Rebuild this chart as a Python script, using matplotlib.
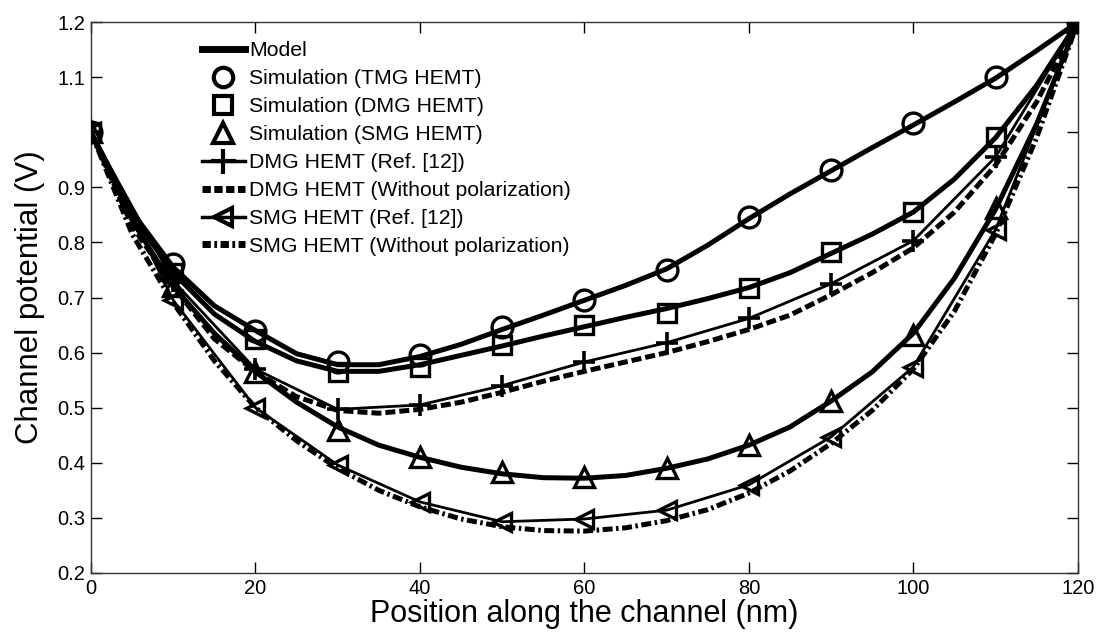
import matplotlib
matplotlib.use("Agg")
import matplotlib.pyplot as plt
from matplotlib.lines import Line2D

plt.rcParams['font.family'] = ['Liberation Sans', 'DejaVu Sans']

# channel positions (nm)
x_fine = [0, 5, 10, 15, 20, 25, 30, 35, 40, 45, 50, 55, 60, 65, 70, 75,
          80, 85, 90, 95, 100, 105, 110, 115, 120]
x_pts = [0, 10, 20, 30, 40, 50, 60, 70, 80, 90, 100, 110, 120]

# model curves (V)
model_tmg = [1.0, 0.855, 0.755, 0.685, 0.64, 0.598, 0.578, 0.578, 0.593, 0.615,
             0.642, 0.668, 0.695, 0.722, 0.752, 0.795, 0.843, 0.888, 0.93, 0.972,
             1.013, 1.055, 1.098, 1.148, 1.2]
model_dmg = [1.0, 0.85, 0.745, 0.67, 0.62, 0.585, 0.566, 0.566, 0.578, 0.595,
             0.612, 0.63, 0.647, 0.664, 0.68, 0.698, 0.718, 0.745, 0.78, 0.815,
             0.855, 0.915, 0.99, 1.085, 1.2]
model_smg = [1.0, 0.84, 0.72, 0.635, 0.565, 0.51, 0.465, 0.432, 0.41, 0.392,
             0.38, 0.373, 0.372, 0.377, 0.39, 0.407, 0.432, 0.465, 0.512, 0.565,
             0.635, 0.735, 0.86, 1.015, 1.2]
dmg_nopol = [1.0, 0.83, 0.72, 0.625, 0.565, 0.52, 0.495, 0.49, 0.497, 0.51,
             0.528, 0.548, 0.566, 0.583, 0.6, 0.62, 0.642, 0.668, 0.705, 0.745,
             0.79, 0.855, 0.94, 1.055, 1.2]
smg_nopol = [1.0, 0.815, 0.69, 0.585, 0.5, 0.44, 0.39, 0.35, 0.32, 0.298,
             0.284, 0.277, 0.276, 0.282, 0.295, 0.315, 0.345, 0.385, 0.435, 0.495,
             0.57, 0.675, 0.815, 0.99, 1.2]

# simulation points (V)
sim_tmg = [1.0, 0.76, 0.64, 0.583, 0.596, 0.647, 0.695, 0.75, 0.846, 0.931, 1.016, 1.1, 1.2]
sim_dmg = [1.0, 0.745, 0.625, 0.565, 0.574, 0.614, 0.65, 0.672, 0.717, 0.783, 0.855, 0.991, 1.2]
sim_smg = [1.0, 0.72, 0.565, 0.46, 0.411, 0.383, 0.374, 0.391, 0.432, 0.512, 0.632, 0.862, 1.2]

# Ref. [12] curves (V)
ref_dmg = [1.0, 0.73, 0.57, 0.497, 0.505, 0.54, 0.583, 0.618, 0.662, 0.725, 0.803, 0.955, 1.2]
ref_smg = [1.0, 0.695, 0.5, 0.396, 0.329, 0.293, 0.298, 0.314, 0.36, 0.447, 0.574, 0.823, 1.2]

fig = plt.figure(figsize=(11.02, 6.33), dpi=100)
ax = fig.add_axes([0.0826, 0.0948, 0.8954, 0.8704])

lw_thick = 3.6
dash = (2.0, 0.8)
dashdot = (2.0, 0.7, 0.5, 0.7)
ms = 15
mew = 2.4

# model
for m in (model_tmg, model_dmg, model_smg):
    ax.plot(x_fine, m, color='k', lw=lw_thick, solid_capstyle='round', zorder=3)

ax.plot(x_fine, dmg_nopol, color='k', lw=lw_thick, dashes=dash, zorder=3)
ax.plot(x_fine, smg_nopol, color='k', lw=lw_thick, dashes=dashdot, zorder=3)

ax.plot(x_pts, ref_dmg, color='k', lw=2.0, marker='+', ms=16, mew=2.6, zorder=4)
ax.plot(x_pts, ref_smg, color='k', lw=2.0, marker='<', ms=13, mew=mew,
        mfc='none', zorder=4)

ax.plot(x_pts, sim_tmg, ls='none', marker='o', ms=ms, mew=mew, mfc='none', mec='k', zorder=5)
ax.plot(x_pts, sim_dmg, ls='none', marker='s', ms=13, mew=mew, mfc='none', mec='k', zorder=5)
ax.plot(x_pts, sim_smg, ls='none', marker='^', ms=ms, mew=mew, mfc='none', mec='k', zorder=5)

ax.set_xlim(0, 120)
ax.set_ylim(0.2, 1.2)
ax.set_xticks(range(0, 121, 20))
yt = [0.2, 0.3, 0.4, 0.5, 0.6, 0.7, 0.8, 0.9, 1.0, 1.1, 1.2]
ax.set_yticks(yt)
ax.set_yticklabels(['' if abs(v - 1.0) < 1e-9 else f'{v:g}' for v in yt])
ax.tick_params(direction='in', length=8, width=1, labelsize=14.5, top=True, right=True,
               pad=4)
for s in ax.spines.values():
    s.set_linewidth(1.0)
    s.set_color('#333333')

ax.set_xlabel('Position along the channel (nm)', fontsize=22, labelpad=1)
ax.set_ylabel('Channel potential (V)', fontsize=22.5, labelpad=9)

handles = [
    Line2D([], [], color='k', lw=5),
    Line2D([], [], ls='none', marker='o', ms=14, mew=3, mfc='none', mec='k'),
    Line2D([], [], ls='none', marker='s', ms=13, mew=3, mfc='none', mec='k'),
    Line2D([], [], ls='none', marker='^', ms=14, mew=3, mfc='none', mec='k'),
    Line2D([], [], color='k', lw=2.5, marker='+', ms=18, mew=3),
    Line2D([], [], color='k', lw=5, dashes=(1.2, 0.5)),
    Line2D([], [], color='k', lw=2.5, marker='<', ms=13, mew=3, mfc='none'),
    Line2D([], [], color='k', lw=5, dashes=(1.2, 0.5, 0.4, 0.5)),
]
labels = ['Model', 'Simulation (TMG HEMT)', 'Simulation (DMG HEMT)',
          'Simulation (SMG HEMT)', 'DMG HEMT (Ref. [12])',
          'DMG HEMT (Without polarization)', 'SMG HEMT (Ref. [12])',
          'SMG HEMT (Without polarization)']
ax.legend(handles, labels, loc='upper left', bbox_to_anchor=(0.17, 0.958),
          bbox_transform=fig.transFigure, frameon=False, fontsize=15.3,
          handlelength=2.0, handletextpad=0.2, labelspacing=0.42,
          borderpad=0.2)

fig.savefig('out.png', dpi=100)
